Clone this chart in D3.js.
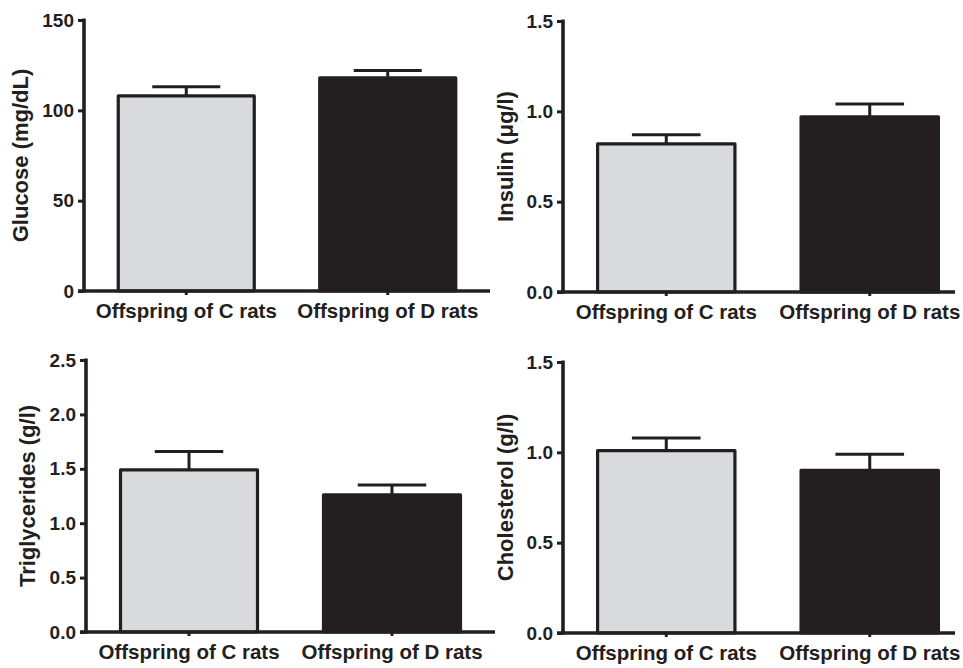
<!DOCTYPE html>
<html>
<head>
<meta charset="utf-8">
<script src="https://cdn.jsdelivr.net/npm/d3@7/dist/d3.min.js"></script>
<style>
  html, body { margin: 0; padding: 0; background: #ffffff; }
  svg { display: block; }
  text { font-family: "Liberation Sans", Arial, Helvetica, sans-serif; font-weight: bold; fill: #231f20; }
</style>
</head>
<body>
<svg id="chart" width="963" height="668"></svg>
<script>
// Groups shown on every panel
const categories = ["Offspring of C rats", "Offspring of D rats"];

// Glucose (mg/dL): mean and SEM
const glucoseMean = [108, 118];
const glucoseSem = [5, 4];
const glucoseTicks = [0, 50, 100, 150];

// Insulin (µg/l)
const insulinMean = [0.82, 0.97];
const insulinSem = [0.05, 0.07];
const insulinTicks = [0, 0.5, 1.0, 1.5];

// Triglycerides (g/l)
const trigMean = [1.49, 1.26];
const trigSem = [0.17, 0.09];
const trigTicks = [0, 0.5, 1.0, 1.5, 2.0, 2.5];

// Cholesterol (g/l)
const cholMean = [1.01, 0.90];
const cholSem = [0.07, 0.09];
const cholTicks = [0, 0.5, 1.0, 1.5];

const INK = "#231f20";
const fills = ["#d9dadb", "#231f20"];

const panels = [
  { title: "Glucose (mg/dL)", mean: glucoseMean, sem: glucoseSem, ticks: glucoseTicks,
    fmt: d3.format("d"), x0: 84, x1: 490, top: 20, bottom: 291, titleX: 20 },
  { title: "Insulin  (\u03bcg/l)", mean: insulinMean, sem: insulinSem, ticks: insulinTicks,
    fmt: d3.format(".1f"), x0: 563, x1: 973, top: 21, bottom: 292, titleX: 505 },
  { title: "Triglycerides (g/l)", mean: trigMean, sem: trigSem, ticks: trigTicks,
    fmt: d3.format(".1f"), x0: 86, x1: 495, top: 360, bottom: 632, titleX: 27 },
  { title: "Cholesterol (g/l)", mean: cholMean, sem: cholSem, ticks: cholTicks,
    fmt: d3.format(".1f"), x0: 563, x1: 973, top: 362, bottom: 633, titleX: 505 }
];

const svg = d3.select("#chart");

panels.forEach(p => {
  const g = svg.append("g");
  const yMax = p.ticks[p.ticks.length - 1];
  const y = d3.scaleLinear().domain([0, yMax]).range([p.bottom, p.top]);
  const x = d3.scaleBand().domain(categories).range([p.x0, p.x1])
    .paddingInner(0.325).paddingOuter(0.17);
  const bw = x.bandwidth();
  const rows = categories.map((c, i) => ({ c, i, m: p.mean[i], s: p.sem[i] }));

  // error bars (drawn first so bar outline sits on top)
  const eb = g.append("g").attr("stroke", INK).attr("stroke-width", 3).attr("fill", "none");
  eb.selectAll("line.v").data(rows).join("line").attr("class", "v")
    .attr("x1", d => x(d.c) + bw / 2).attr("x2", d => x(d.c) + bw / 2)
    .attr("y1", d => y(d.m)).attr("y2", d => y(d.m + d.s));
  eb.selectAll("line.cap").data(rows).join("line").attr("class", "cap")
    .attr("x1", d => x(d.c) + bw / 4).attr("x2", d => x(d.c) + bw * 3 / 4)
    .attr("y1", d => y(d.m + d.s)).attr("y2", d => y(d.m + d.s));

  // bars
  g.selectAll("rect.bar").data(rows).join("rect").attr("class", "bar")
    .attr("x", d => x(d.c)).attr("width", bw)
    .attr("y", d => y(d.m)).attr("height", d => y(0) - y(d.m))
    .attr("fill", d => fills[d.i]).attr("stroke", INK)
    .attr("stroke-width", 3.2).attr("stroke-linejoin", "round");

  // y axis
  const yAxis = d3.axisLeft(y).tickValues(p.ticks).tickFormat(p.fmt).tickSize(6).tickPadding(4);
  const ya = g.append("g").attr("transform", `translate(${p.x0},0)`).call(yAxis);
  ya.select(".domain").remove();
  ya.selectAll(".tick line").attr("stroke", INK).attr("stroke-width", 3);
  ya.selectAll(".tick text").attr("font-size", 19).attr("font-family", null).attr("fill", INK);
  g.append("line").attr("x1", p.x0).attr("x2", p.x0)
    .attr("y1", p.top - 1.5).attr("y2", p.bottom + 1.5)
    .attr("stroke", INK).attr("stroke-width", 3.6);

  // x axis
  const xAxis = d3.axisBottom(x).tickSize(4).tickPadding(8);
  const xa = g.append("g").attr("transform", `translate(0,${p.bottom})`).call(xAxis);
  xa.select(".domain").remove();
  xa.selectAll(".tick line").attr("stroke", INK).attr("stroke-width", 3);
  xa.selectAll(".tick text").attr("font-size", 20.5).attr("font-family", null).attr("fill", INK);
  g.append("line").attr("x1", p.x0 - 6).attr("x2", Math.min(p.x1, 955))
    .attr("y1", p.bottom).attr("y2", p.bottom)
    .attr("stroke", INK).attr("stroke-width", 3.6);

  // y title
  g.append("text")
    .attr("transform", `translate(${p.titleX},${(p.top + p.bottom) / 2}) rotate(-90)`)
    .attr("text-anchor", "middle").attr("dominant-baseline", "central")
    .attr("font-size", 22).text(p.title);
});
</script>
</body>
</html>
